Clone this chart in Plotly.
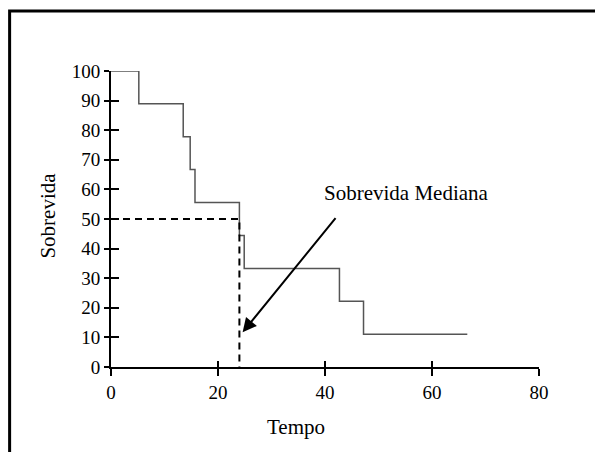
import plotly.graph_objects as go

# Survival step curve (Kaplan-Meier style)
tempo = [0, 5.2, 13.5, 14.8, 15.7, 24.0, 24.9, 42.7, 47.2, 66.6]
sobrevida = [100, 88.9, 77.8, 66.7, 55.6, 44.4, 33.3, 22.2, 11.1, 11.1]

# Median survival guide
mediana_x = [0, 24.0, 24.0]
mediana_y = [50, 50, 0]

# Arrow (tail -> tip) and label
seta_cauda = (42.2, 50.8)
seta_ponta = (24.6, 11.7)
rotulo_pos = (55.3, 58.8)
rotulo = "Sobrevida Mediana"

x_ticks = [0, 20, 40, 60, 80]
y_ticks = [0, 10, 20, 30, 40, 50, 60, 70, 80, 90, 100]

FONT = "Liberation Serif"

fig = go.Figure()
fig.add_trace(go.Scatter(x=tempo, y=sobrevida, mode="lines", line_shape="hv",
                         line=dict(color="#555555", width=1.5), showlegend=False,
                         cliponaxis=False))
fig.add_trace(go.Scatter(x=mediana_x, y=mediana_y, mode="lines",
                         line=dict(color="black", width=2, dash="7px,5px"),
                         showlegend=False, cliponaxis=False))

axis_common = dict(showgrid=False, zeroline=False, showline=True, linecolor="black",
                   linewidth=2, tickcolor="black", tickwidth=2, mirror=False)

fig.update_layout(
    width=595, height=452,
    margin=dict(l=110.5, r=56, t=71, b=85),
    paper_bgcolor="white", plot_bgcolor="white",
    font=dict(family=FONT, size=19, color="black"),
    xaxis=dict(range=[0, 80], tickvals=x_ticks, ticks="outside", ticklen=7,
               tickfont=dict(size=19), **axis_common),
    yaxis=dict(range=[0, 100], tickvals=y_ticks, ticks="outside", ticklen=5,
               tickfont=dict(size=19), **axis_common),
    xaxis2=dict(range=[0, 80], tickvals=x_ticks, ticks="inside", ticklen=6,
                showticklabels=False, overlaying="x", anchor="y", **axis_common),
    yaxis2=dict(range=[0, 100], tickvals=y_ticks, ticks="inside", ticklen=8,
                showticklabels=False, overlaying="y", anchor="x", **axis_common),
)
# dummy trace to activate overlay axes
fig.add_trace(go.Scatter(x=[None], y=[None], xaxis="x2", yaxis="y2", showlegend=False))

fig.add_annotation(x=seta_ponta[0], y=seta_ponta[1], ax=seta_cauda[0], ay=seta_cauda[1],
                   xref="x", yref="y", axref="x", ayref="y", text="", showarrow=True,
                   arrowhead=2, arrowsize=1.4, arrowwidth=2, arrowcolor="black")
fig.add_annotation(x=rotulo_pos[0], y=rotulo_pos[1], xref="x", yref="y", text=rotulo,
                   showarrow=False, xanchor="center", yanchor="middle",
                   font=dict(family=FONT, size=21, color="black"))

# axis titles
fig.add_annotation(x=(296 - 110.5) / 428.5, y=(367 - 427) / 296, xref="paper", yref="paper",
                   text="Tempo", showarrow=False, xanchor="center", yanchor="middle",
                   font=dict(family=FONT, size=21))
fig.add_annotation(x=(47 - 110.5) / 428.5, y=(367 - 216) / 296, xref="paper", yref="paper",
                   text="Sobrevida", textangle=-90, showarrow=False,
                   xanchor="center", yanchor="middle",
                   font=dict(family=FONT, size=21))

# outer frame (left and top edges visible)
L = (9 - 110.5) / 428.5
T = (367 - 11) / 296
R = (620 - 110.5) / 428.5
B = (367 - 480) / 296
fig.add_shape(type="path", xref="paper", yref="paper",
              path=f"M {L},{B} L {L},{T} L {R},{T}",
              line=dict(color="black", width=3))

fig.write_html("out.html", config={"displayModeBar": False},
               post_script="document.body.style.margin='0';document.body.style.overflow='hidden';")
